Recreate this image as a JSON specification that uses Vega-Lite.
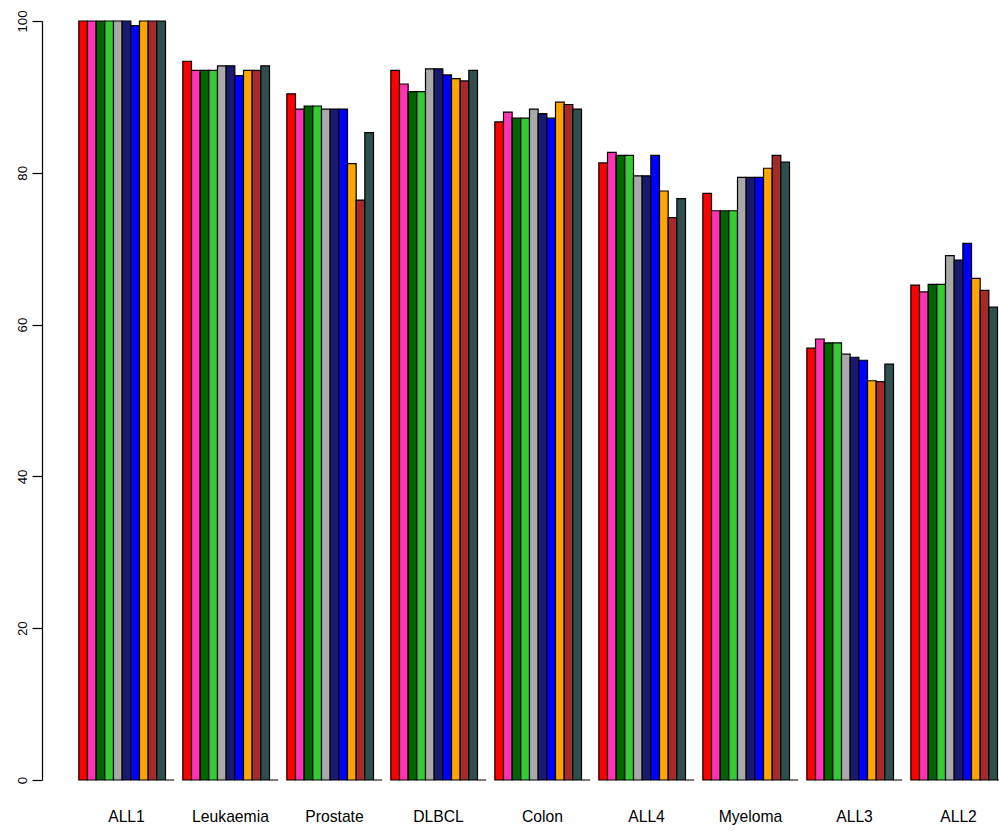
{
  "$schema": "https://vega.github.io/schema/vega-lite/v6.json",
  "width": 1001,
  "height": 759,
  "autosize": {"type": "none"},
  "padding": {"left": 42, "top": 21, "right": 0, "bottom": 51},
  "background": "white",
  "config": {"view": {"stroke": null}, "font": "Liberation Sans"},
  "datasets": {
    "acc": [
      {"dataset": "ALL1", "method": "A", "value": 100},
      {"dataset": "ALL1", "method": "B", "value": 100},
      {"dataset": "ALL1", "method": "C", "value": 100},
      {"dataset": "ALL1", "method": "D", "value": 100},
      {"dataset": "ALL1", "method": "E", "value": 100},
      {"dataset": "ALL1", "method": "F", "value": 100},
      {"dataset": "ALL1", "method": "G", "value": 99.4},
      {"dataset": "ALL1", "method": "H", "value": 100},
      {"dataset": "ALL1", "method": "I", "value": 100},
      {"dataset": "ALL1", "method": "J", "value": 100},
      {"dataset": "ALL1", "method": "K", "value": 0},
      {"dataset": "Leukaemia", "method": "A", "value": 94.7},
      {"dataset": "Leukaemia", "method": "B", "value": 93.5},
      {"dataset": "Leukaemia", "method": "C", "value": 93.5},
      {"dataset": "Leukaemia", "method": "D", "value": 93.5},
      {"dataset": "Leukaemia", "method": "E", "value": 94.1},
      {"dataset": "Leukaemia", "method": "F", "value": 94.1},
      {"dataset": "Leukaemia", "method": "G", "value": 92.8},
      {"dataset": "Leukaemia", "method": "H", "value": 93.5},
      {"dataset": "Leukaemia", "method": "I", "value": 93.5},
      {"dataset": "Leukaemia", "method": "J", "value": 94.1},
      {"dataset": "Leukaemia", "method": "K", "value": 0},
      {"dataset": "Prostate", "method": "A", "value": 90.4},
      {"dataset": "Prostate", "method": "B", "value": 88.4},
      {"dataset": "Prostate", "method": "C", "value": 88.8},
      {"dataset": "Prostate", "method": "D", "value": 88.8},
      {"dataset": "Prostate", "method": "E", "value": 88.4},
      {"dataset": "Prostate", "method": "F", "value": 88.4},
      {"dataset": "Prostate", "method": "G", "value": 88.4},
      {"dataset": "Prostate", "method": "H", "value": 81.2},
      {"dataset": "Prostate", "method": "I", "value": 76.4},
      {"dataset": "Prostate", "method": "J", "value": 85.3},
      {"dataset": "Prostate", "method": "K", "value": 0},
      {"dataset": "DLBCL", "method": "A", "value": 93.5},
      {"dataset": "DLBCL", "method": "B", "value": 91.7},
      {"dataset": "DLBCL", "method": "C", "value": 90.7},
      {"dataset": "DLBCL", "method": "D", "value": 90.7},
      {"dataset": "DLBCL", "method": "E", "value": 93.7},
      {"dataset": "DLBCL", "method": "F", "value": 93.7},
      {"dataset": "DLBCL", "method": "G", "value": 92.9},
      {"dataset": "DLBCL", "method": "H", "value": 92.4},
      {"dataset": "DLBCL", "method": "I", "value": 92.1},
      {"dataset": "DLBCL", "method": "J", "value": 93.5},
      {"dataset": "DLBCL", "method": "K", "value": 0},
      {"dataset": "Colon", "method": "A", "value": 86.7},
      {"dataset": "Colon", "method": "B", "value": 88.0},
      {"dataset": "Colon", "method": "C", "value": 87.2},
      {"dataset": "Colon", "method": "D", "value": 87.2},
      {"dataset": "Colon", "method": "E", "value": 88.4},
      {"dataset": "Colon", "method": "F", "value": 87.8},
      {"dataset": "Colon", "method": "G", "value": 87.2},
      {"dataset": "Colon", "method": "H", "value": 89.3},
      {"dataset": "Colon", "method": "I", "value": 89.0},
      {"dataset": "Colon", "method": "J", "value": 88.4},
      {"dataset": "Colon", "method": "K", "value": 0},
      {"dataset": "ALL4", "method": "A", "value": 81.3},
      {"dataset": "ALL4", "method": "B", "value": 82.7},
      {"dataset": "ALL4", "method": "C", "value": 82.3},
      {"dataset": "ALL4", "method": "D", "value": 82.3},
      {"dataset": "ALL4", "method": "E", "value": 79.6},
      {"dataset": "ALL4", "method": "F", "value": 79.6},
      {"dataset": "ALL4", "method": "G", "value": 82.3},
      {"dataset": "ALL4", "method": "H", "value": 77.6},
      {"dataset": "ALL4", "method": "I", "value": 74.1},
      {"dataset": "ALL4", "method": "J", "value": 76.6},
      {"dataset": "ALL4", "method": "K", "value": 0},
      {"dataset": "Myeloma", "method": "A", "value": 77.3},
      {"dataset": "Myeloma", "method": "B", "value": 75.0},
      {"dataset": "Myeloma", "method": "C", "value": 75.0},
      {"dataset": "Myeloma", "method": "D", "value": 75.0},
      {"dataset": "Myeloma", "method": "E", "value": 79.4},
      {"dataset": "Myeloma", "method": "F", "value": 79.4},
      {"dataset": "Myeloma", "method": "G", "value": 79.4},
      {"dataset": "Myeloma", "method": "H", "value": 80.6},
      {"dataset": "Myeloma", "method": "I", "value": 82.3},
      {"dataset": "Myeloma", "method": "J", "value": 81.4},
      {"dataset": "Myeloma", "method": "K", "value": 0},
      {"dataset": "ALL3", "method": "A", "value": 56.9},
      {"dataset": "ALL3", "method": "B", "value": 58.1},
      {"dataset": "ALL3", "method": "C", "value": 57.6},
      {"dataset": "ALL3", "method": "D", "value": 57.6},
      {"dataset": "ALL3", "method": "E", "value": 56.1},
      {"dataset": "ALL3", "method": "F", "value": 55.7},
      {"dataset": "ALL3", "method": "G", "value": 55.3},
      {"dataset": "ALL3", "method": "H", "value": 52.6},
      {"dataset": "ALL3", "method": "I", "value": 52.5},
      {"dataset": "ALL3", "method": "J", "value": 54.8},
      {"dataset": "ALL3", "method": "K", "value": 0},
      {"dataset": "ALL2", "method": "A", "value": 65.2},
      {"dataset": "ALL2", "method": "B", "value": 64.3},
      {"dataset": "ALL2", "method": "C", "value": 65.3},
      {"dataset": "ALL2", "method": "D", "value": 65.3},
      {"dataset": "ALL2", "method": "E", "value": 69.1},
      {"dataset": "ALL2", "method": "F", "value": 68.5},
      {"dataset": "ALL2", "method": "G", "value": 70.7},
      {"dataset": "ALL2", "method": "H", "value": 66.1},
      {"dataset": "ALL2", "method": "I", "value": 64.5},
      {"dataset": "ALL2", "method": "J", "value": 62.3},
      {"dataset": "ALL2", "method": "K", "value": 0}
    ]
  },
  "data": {"name": "acc"},
  "mark": {"type": "bar", "stroke": "black", "strokeWidth": 1.2, "cornerRadius": 0},
  "encoding": {
    "x": {
      "field": "dataset",
      "type": "nominal",
      "sort": null,
      "scale": {"paddingInner": 0.08333, "paddingOuter": 0.354},
      "axis": {
        "title": null,
        "domain": false,
        "ticks": false,
        "tickSize": 0,
        "labelAngle": 0,
        "labelPadding": 29,
        "labelFontSize": 15.7,
        "labelColor": "black",
        "labelFont": "Liberation Sans"
      }
    },
    "xOffset": {
      "field": "method",
      "type": "nominal",
      "sort": "ascending",
      "scale": {"paddingInner": 0, "paddingOuter": 0}
    },
    "y": {
      "field": "value",
      "type": "quantitative",
      "scale": {"domain": [0, 100], "nice": false, "zero": true},
      "axis": {
        "title": null,
        "grid": false,
        "values": [0, 20, 40, 60, 80, 100],
        "domainColor": "black",
        "domainWidth": 1.2,
        "tickColor": "black",
        "tickWidth": 1.2,
        "tickSize": 10,
        "labelAngle": -90,
        "labelAlign": "center",
        "labelBaseline": "alphabetic",
        "labelPadding": 6,
        "labelFontSize": 13.2,
        "labelColor": "black",
        "labelFont": "Liberation Sans"
      }
    },
    "color": {
      "field": "method",
      "type": "nominal",
      "legend": null,
      "scale": {
        "domain": ["A", "B", "C", "D", "E", "F", "G", "H", "I", "J", "K"],
        "range": ["#FF0000", "#FF34B3", "#006400", "#32CD32", "#A9A9A9", "#191970", "#0000FF", "#FFA500", "#A52A2A", "#2F4F4F", "#FFFF00"]
      }
    }
  }
}
